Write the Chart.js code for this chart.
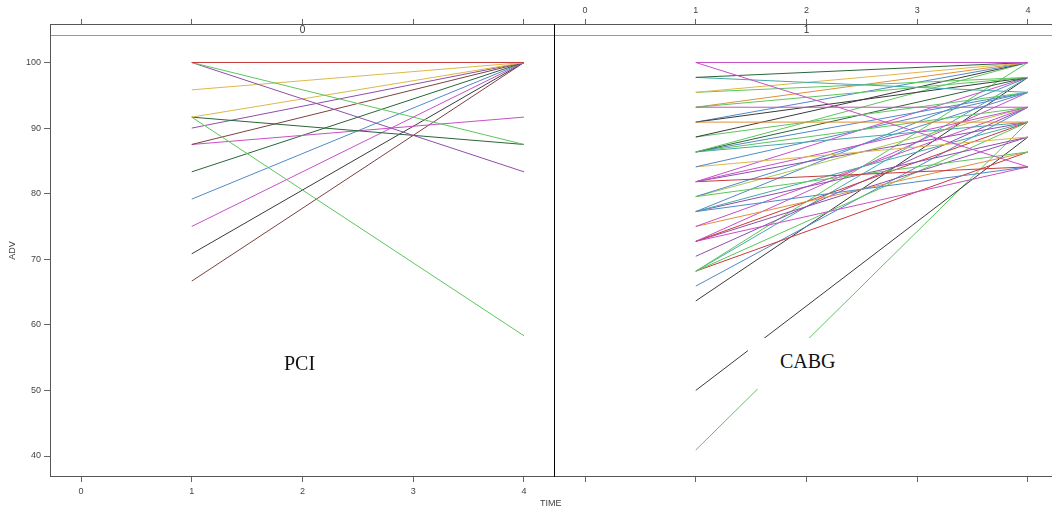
<!DOCTYPE html>
<html>
<head>
<meta charset="utf-8">
<script src="https://cdn.jsdelivr.net/npm/chart.js@4/dist/chart.umd.min.js"></script>
<style>
  body { margin: 0; background: #fff; overflow: hidden; width: 1052px; height: 511px; position: relative; }
  canvas { position: absolute; top: 0; }
  #left { left: 0; }
  #right { left: 504px; }
  .lbl { position: absolute; font-family: "Liberation Serif", serif; font-size: 20px; color: #111; background: #fff; }
  #time { position: absolute; left: 540px; top: 498px; font-family: "Liberation Sans", sans-serif; font-size: 9px; color: #444; }
</style>
</head>
<body>
<canvas id="left" width="556" height="511"></canvas>
<canvas id="right" width="556" height="511"></canvas>
<div class="lbl" style="left:284px; top:352px;">PCI</div>
<div class="lbl" style="left:748px; top:338px; padding:12px 34px 16px 32px;">CABG</div>
<div id="time">TIME</div>
<script>
// tick labels
const xTicks = [0, 1, 2, 3, 4];
const yTicks = [40, 50, 60, 70, 80, 90, 100];
// visits on the x axis
const visits = [1, 4];

// group 0 (PCI): ADV at visit 1 and visit 4
const pciStart = [100, 100, 100, 95.83, 91.67, 91.67, 91.67, 90, 87.5, 87.5, 83.33, 79.17, 75, 70.83, 66.67];
const pciEnd   = [100, 87.5, 83.33, 100, 100, 87.5, 58.33, 100, 100, 91.67, 100, 100, 100, 100, 100];

// group 1 (CABG)
const cabgStart = [100, 100, 97.73, 97.73, 95.45, 95.45, 93.18, 93.18, 93.18, 90.91, 90.91, 90.91,
  88.64, 88.64, 86.36, 86.36, 86.36, 86.36, 86.36, 84.09, 84.09, 81.82, 81.82, 81.82, 81.82,
  79.55, 79.55, 79.55, 77.27, 77.27, 77.27, 77.27, 75, 75, 72.73, 72.73, 72.73, 72.73, 70.45,
  68.18, 68.18, 68.18, 68.18, 65.91, 63.64, 50, 40.91];
const cabgEnd = [100, 84.09, 100, 95.45, 100, 97.73, 93.18, 97.73, 100, 90.91, 97.73, 100,
  100, 95.45, 100, 97.73, 95.45, 93.18, 90.91, 95.45, 88.64, 93.18, 84.09, 90.91, 97.73,
  86.36, 95.45, 93.18, 97.73, 90.91, 84.09, 88.64, 93.18, 86.36, 95.45, 90.91, 88.64, 84.09, 93.18,
  100, 97.73, 90.91, 86.36, 93.18, 97.73, 88.64, 90.91];

const palette = {
  magenta: '#c74fc7', green: '#5cc65c', dkgreen: '#2a6438', teal: '#48a8a8', blue: '#5089c6',
  yellow: '#dcb84a', orange: '#e0903a', red: '#c83a3a', purple: '#8c4eaa', black: '#3a3a3a',
  brown: '#7d4040', ygreen: '#a8c854'
};
const pciColors = ['red', 'green', 'purple', 'yellow', 'yellow', 'dkgreen', 'green', 'purple', 'brown',
  'magenta', 'dkgreen', 'blue', 'magenta', 'black', 'brown'];
const cabgColors = ['magenta', 'magenta', 'dkgreen', 'teal', 'yellow', 'green', 'magenta', 'green', 'orange',
  'orange', 'black', 'blue', 'black', 'green', 'green', 'dkgreen', 'blue', 'green', 'teal', 'blue', 'yellow',
  'magenta', 'red', 'purple', 'magenta', 'green', 'blue', 'ygreen', 'blue', 'teal', 'blue', 'purple',
  'magenta', 'orange', 'magenta', 'red', 'purple', 'magenta', 'purple', 'green', 'teal', 'green', 'red',
  'blue', 'black', 'black', 'green'];

const X_MIN = -0.28, X_MAX = 4.28, Y_MIN = 36.8, Y_MAX = 105.87;
const tickFont = { family: 'Liberation Sans', size: 9 };

function buildDatasets(starts, ends, colors) {
  return starts.map((s, i) => ({
    data: [{ x: visits[0], y: s }, { x: visits[1], y: ends[i] }],
    borderColor: palette[colors[i]],
    borderWidth: 1,
    pointRadius: 0,
    fill: false
  }));
}

// strip on top of each panel + frame
const panelFrame = {
  id: 'panelFrame',
  afterDraw(chart, args, opts) {
    const { ctx, chartArea: a } = chart;
    ctx.save();
    ctx.lineWidth = 1;
    ctx.strokeStyle = '#999';
    ctx.beginPath();
    ctx.moveTo(a.left, a.top + 11.5);
    ctx.lineTo(a.right, a.top + 11.5);
    ctx.stroke();
    ctx.strokeStyle = '#555';
    ctx.strokeRect(a.left + 0.5, a.top + 0.5, a.right - a.left - 1, a.bottom - a.top - 1);
    // black line between the panels, same pixel column in both canvases
    ctx.strokeStyle = '#000';
    ctx.beginPath();
    const sx = opts.sepLeft ? a.left + 0.5 : a.right - 0.5;
    ctx.moveTo(sx, a.top);
    ctx.lineTo(sx, a.bottom);
    ctx.stroke();
    ctx.fillStyle = '#333';
    ctx.font = '10px "Liberation Sans"';
    ctx.textAlign = 'center';
    ctx.textBaseline = 'middle';
    ctx.fillText(opts.label, (a.left + a.right) / 2, a.top + 6.5);
    ctx.restore();
  }
};

function makePanel(id, starts, ends, colors, cfg) {
  const ctx = document.getElementById(id);
  return new Chart(ctx, {
    type: 'line',
    data: { datasets: buildDatasets(starts, ends, colors) },
    options: {
      responsive: false,
      animation: false,
      devicePixelRatio: 1,
      layout: { padding: { left: 0, right: 1, top: 0, bottom: 0 } },
      plugins: {
        legend: { display: false },
        tooltip: { enabled: false },
        panelFrame: { label: cfg.strip, sepLeft: cfg.sepLeft }
      },
      scales: {
        x: {
          type: 'linear', position: 'bottom', min: X_MIN, max: X_MAX,
          afterBuildTicks: s => { s.ticks = xTicks.map(v => ({ value: v })); },
          afterFit: s => { s.height = 34; },
          border: { display: false },
          grid: { drawOnChartArea: false, drawTicks: true, tickLength: 5, color: '#666' },
          ticks: { font: tickFont, color: cfg.bottomLabels ? '#444' : 'rgba(0,0,0,0)', padding: 4, maxRotation: 0 }
        },
        x2: {
          type: 'linear', position: 'top', min: X_MIN, max: X_MAX,
          afterBuildTicks: s => { s.ticks = xTicks.map(v => ({ value: v })); },
          afterFit: s => { s.height = 24; },
          border: { display: false },
          grid: { drawOnChartArea: false, drawTicks: true, tickLength: 5, color: '#666' },
          ticks: { font: tickFont, color: cfg.topLabels ? '#444' : 'rgba(0,0,0,0)', padding: 3, maxRotation: 0 }
        },
        y: {
          type: 'linear', min: Y_MIN, max: Y_MAX,
          afterBuildTicks: s => { s.ticks = yTicks.map(v => ({ value: v })); },
          afterFit: s => { s.width = 50; },
          border: { display: false },
          grid: { display: cfg.yAxis, drawOnChartArea: false, drawTicks: true, tickLength: 6, color: '#666' },
          ticks: { font: tickFont, color: cfg.yAxis ? '#444' : 'rgba(0,0,0,0)', padding: 3 },
          title: { display: cfg.yAxis, text: 'ADV', font: tickFont, color: '#444', padding: { top: 7, bottom: 0 } }
        }
      }
    },
    plugins: [panelFrame]
  });
}

makePanel('left', pciStart, pciEnd, pciColors, { strip: '0', bottomLabels: true, topLabels: false, yAxis: true, sepLeft: false });
makePanel('right', cabgStart, cabgEnd, cabgColors, { strip: '1', bottomLabels: false, topLabels: true, yAxis: false, sepLeft: true });
</script>
</body>
</html>
